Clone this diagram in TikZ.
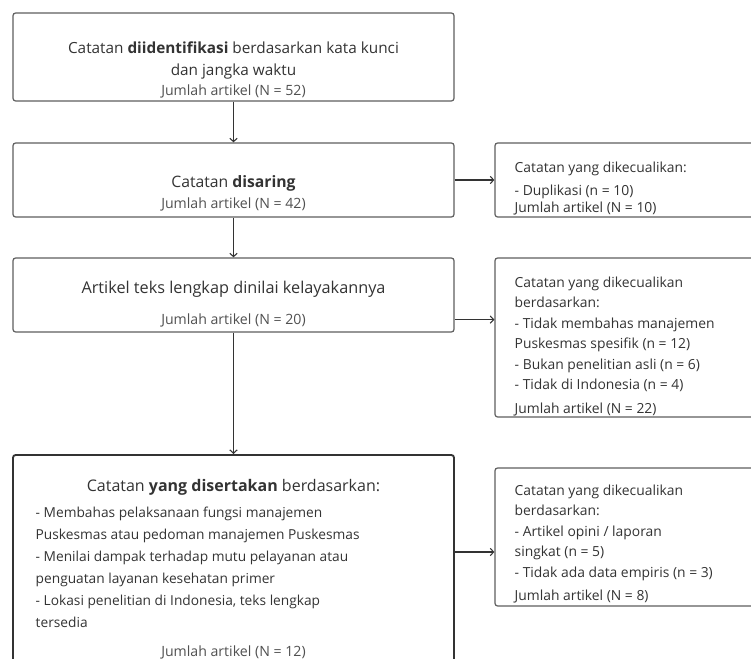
\documentclass[tikz,border=0pt]{standalone}
\usepackage{fontspec}
\setmainfont{Open Sans}
\usetikzlibrary{arrows.meta}

\definecolor{ink}{HTML}{333333}
\definecolor{soft}{HTML}{505050}
\definecolor{rim}{HTML}{5E5E5E}

\newcommand{\mainsize}{\fontsize{11.5pt}{15.8pt}\selectfont}
\newcommand{\sidesize}{\fontsize{10.4pt}{15.4pt}\selectfont}

\begin{document}
\begin{tikzpicture}[x=0.75pt,y=-0.75pt,
      box/.style={draw=rim,line width=0.9pt,rounded corners=2pt,inner sep=0pt,minimum width=330.75pt},
      incbox/.style={box,draw=ink,line width=1.4pt},
      exbox/.style={box,minimum width=228.75pt},
      title/.style={text=ink,align=center,font=\mainsize},
      count/.style={text=soft,font=\fontsize{10.6pt}{12pt}\selectfont},
      sidetext/.style={text=ink,align=left,anchor=north west,font=\sidesize},
      flow/.style={draw=ink,line width=0.8pt,-{Straight Barb[length=2.6pt,width=5.5pt]}}]

      \useasboundingbox (0,0) rectangle (751,659);
      \clip (0,0) rectangle (751,659);

      % left column
      \node[box,minimum height=66pt] (b1) at (233.5,57) {};
      \node[box,minimum height=55.5pt] (b2) at (233.5,180) {};
      \node[box,minimum height=55.5pt] (b3) at (233.5,295) {};
      \node[incbox,minimum height=198.75pt] (b4) at (233.5,587.5) {};

      % right column
      \node[exbox,minimum height=55.5pt] (r1) at (647.5,180) {};
      \node[exbox,minimum height=119.25pt] (r2) at (647.5,337.5) {};
      \node[exbox,minimum height=103.5pt] (r3) at (647.5,537) {};

      % texts
      \node[title] (t1) at (233.5,60.5) {Catatan \textbf{diidentifikasi} berdasarkan kata kunci\\dan jangka waktu};
      \node[count] (n1) at (233.5,91) {Jumlah artikel (N = 52)};
      \node[title,font=\fontsize{11.8pt}{15.8pt}\selectfont] (t2) at (233.5,183) {Catatan \textbf{disaring}};
      \node[count] (n2) at (233.5,204) {Jumlah artikel (N = 42)};
      \node[title,font=\fontsize{12.2pt}{15.8pt}\selectfont] (t3) at (233.5,289.5) {Artikel teks lengkap dinilai kelayakannya};
      \node[count] (n3) at (233.5,320) {Jumlah artikel (N = 20)};
      \node[title,font=\fontsize{12pt}{16pt}\selectfont] (t4) at (233.5,487) {Catatan \textbf{yang disertakan} berdasarkan:};
      \node[text=ink,align=left,anchor=north west,font=\fontsize{10.3pt}{16.5pt}\selectfont] (l4) at (31,502)
        {- Membahas pelaksanaan fungsi manajemen\\
         Puskesmas atau pedoman manajemen Puskesmas\\
         - Menilai dampak terhadap mutu pelayanan atau\\
         penguatan layanan kesehatan primer\\
         - Lokasi penelitian di Indonesia, teks lengkap\\
         tersedia};
      \node[count] (n4) at (233.5,652) {Jumlah artikel (N = 12)};

      \node[sidetext] (e1) at (510,157)
        {Catatan yang dikecualikan:\\[1.8pt]
         - Duplikasi (n = 10)\\[-2.6pt]
         Jumlah artikel (N = 10)};
      \node[sidetext] (e2) at (510,272)
        {Catatan yang dikecualikan\\
         berdasarkan:\\
         - Tidak membahas manajemen\\
         Puskesmas spesifik (n = 12)\\
         - Bukan penelitian asli (n = 6)\\
         - Tidak di Indonesia (n = 4)\\[2pt]
         Jumlah artikel (N = 22)};
      \node[sidetext] (e3) at (510,480)
        {Catatan yang dikecualikan\\
         berdasarkan:\\
         - Artikel opini / laporan\\
         singkat (n = 5)\\
         - Tidak ada data empiris (n = 3)\\[2pt]
         Jumlah artikel (N = 8)};

      % connectors
      \draw[flow] (b1) -- (b2);
      \draw[flow] (b2) -- (b3);
      \draw[flow] (b3) -- (b4);
      \draw[flow] (b2.east) -- (r1.west);
      \draw[flow] ([yshift=9.75pt]b3.south east) -- ([yshift=9.75pt]b3.south east -| r2.west);
      \draw[flow] ([yshift=-11.25pt]r3.west -| b4.east) -- ([yshift=-11.25pt]r3.west);
    \end{tikzpicture}
\end{document}
